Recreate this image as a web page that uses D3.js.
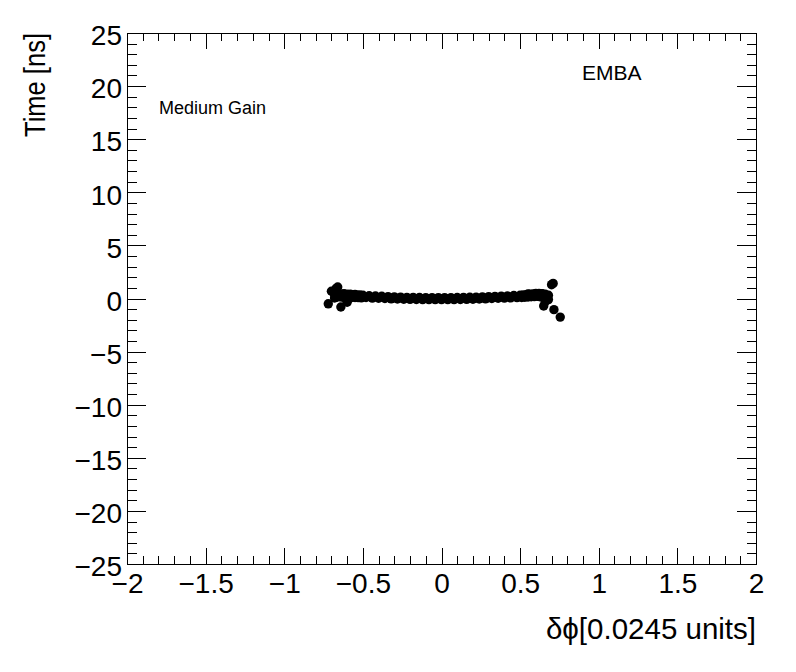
<!DOCTYPE html>
<meta charset="utf-8">
<style>
  body { margin: 0; background: #fff; }
  svg { font-family: "Liberation Sans", Arial, sans-serif; }
  .axis path { display: none; }
  .axis line { stroke: #000; shape-rendering: crispEdges; }
  .axis text { fill: #000; font-size: 28px; }
  .frame { fill: none; stroke: #000; shape-rendering: crispEdges; }
</style>
<body>
<script src="https://d3js.org/d3.v7.min.js"></script>
<script>

// tick values and labels
var xMajor = [-2, -1.5, -1, -0.5, 0, 0.5, 1, 1.5, 2],
    xLabels = ["\u22122", "\u22121.5", "\u22121", "\u22120.5", "0", "0.5", "1", "1.5", "2"],
    yMajor = [-25, -20, -15, -10, -5, 0, 5, 10, 15, 20, 25],
    yLabels = ["\u221225", "\u221220", "\u221215", "\u221210", "\u22125", "0", "5", "10", "15", "20", "25"];

// main band of points (delta phi, time in ns)
var bandPhi = [-0.68, -0.67, -0.66, -0.65, -0.64, -0.63, -0.62, -0.61, -0.60, -0.59, -0.58, -0.57,
               -0.56, -0.55, -0.54, -0.53, -0.52, -0.51, -0.50,
               -0.48, -0.46, -0.44, -0.42, -0.40, -0.38, -0.36, -0.34, -0.32, -0.30,
               -0.28, -0.26, -0.24, -0.22, -0.20, -0.18, -0.16, -0.14, -0.12, -0.10,
               -0.08, -0.06, -0.04, -0.02, 0.00, 0.02, 0.04, 0.06, 0.08, 0.10,
               0.12, 0.14, 0.16, 0.18, 0.20, 0.22, 0.24, 0.26, 0.28, 0.30,
               0.32, 0.34, 0.36, 0.38, 0.40, 0.42, 0.44, 0.46, 0.48, 0.50,
               0.51, 0.52, 0.53, 0.54, 0.55, 0.56, 0.57, 0.58, 0.59, 0.60,
               0.61, 0.62, 0.63, 0.64, 0.65, 0.66, 0.67, 0.68];
var bandTime = [0.35, 0.12, 0.40, 0.15, 0.42, 0.12, 0.38, 0.10, 0.40, 0.12, 0.36, 0.10,
                0.36, 0.10, 0.34, 0.08, 0.33, 0.06, 0.30,
                0.10, 0.26, 0.04, 0.24, 0.02, 0.21, 0.00, 0.18, -0.03, 0.15,
                -0.05, 0.13, -0.07, 0.11, -0.08, 0.10, -0.09, 0.09, -0.10, 0.08,
                -0.10, 0.08, -0.11, 0.08, -0.11, 0.08, -0.10, 0.08, -0.10, 0.09,
                -0.09, 0.10, -0.08, 0.12, -0.07, 0.13, -0.05, 0.15, -0.03, 0.17,
                0.00, 0.20, 0.02, 0.22, 0.04, 0.25, 0.06, 0.28, 0.08, 0.31,
                0.10, 0.34, 0.12, 0.36, 0.14, 0.40, 0.16, 0.44, 0.18, 0.46,
                0.20, 0.48, 0.15, 0.44, 0.10, 0.40, 0.05, 0.30];

// scattered points at the two ends
var edgePhi  = [-0.72, -0.70, -0.67, -0.66, -0.64, -0.60, -0.68, -0.62, -0.58, -0.55,
                0.55, 0.60, 0.64, 0.67, 0.68, 0.66, 0.65, 0.70, 0.71, 0.715, 0.755];
var edgeTime = [-0.50, 0.68, 0.95, 1.08, -0.80, -0.35, 0.05, 0.45, 0.40, 0.38,
                0.42, 0.48, 0.45, 0.20, -0.10, -0.30, -0.70, 1.30, 1.42, -1.05, -1.75];

var W = 796, H = 672,
    frame = {left: 127, right: 756, top: 33, bottom: 564};

var svg = d3.select("body").append("svg")
    .attr("width", W)
    .attr("height", H);

var x = d3.scaleLinear().domain([-2, 2]).range([frame.left, frame.right]);
var y = d3.scaleLinear().domain([-25, 25]).range([frame.bottom, frame.top]);

var xMinor = d3.range(-20, 21).map(function(i) { return i / 10; })
    .filter(function(v) { return Math.abs(v * 2 - Math.round(v * 2)) > 1e-6; });
var yMinor = d3.range(-25, 26).filter(function(v) { return v % 5 != 0; });

// bottom axis
svg.append("g").attr("class", "axis")
    .attr("transform", "translate(0," + frame.bottom + ")")
    .call(d3.axisBottom(x).tickValues(xMajor).tickSizeInner(-16).tickSizeOuter(0).tickPadding(9)
        .tickFormat(function(d, i) { return xLabels[i]; }));
svg.append("g").attr("class", "axis")
    .attr("transform", "translate(0," + frame.bottom + ")")
    .call(d3.axisBottom(x).tickValues(xMinor).tickSizeInner(-8).tickSizeOuter(0).tickFormat(""));

// top axis
svg.append("g").attr("class", "axis")
    .attr("transform", "translate(0," + frame.top + ")")
    .call(d3.axisTop(x).tickValues(xMajor).tickSizeInner(-16).tickSizeOuter(0).tickFormat(""));
svg.append("g").attr("class", "axis")
    .attr("transform", "translate(0," + frame.top + ")")
    .call(d3.axisTop(x).tickValues(xMinor).tickSizeInner(-8).tickSizeOuter(0).tickFormat(""));

// left axis
var yl = svg.append("g").attr("class", "axis")
    .attr("transform", "translate(" + frame.left + ",0)")
    .call(d3.axisLeft(y).tickValues(yMajor).tickSizeInner(-19).tickSizeOuter(0).tickPadding(5)
        .tickFormat(function(d, i) { return yLabels[i]; }));
yl.selectAll("text").attr("dy", "0.42em");
svg.append("g").attr("class", "axis")
    .attr("transform", "translate(" + frame.left + ",0)")
    .call(d3.axisLeft(y).tickValues(yMinor).tickSizeInner(-9.5).tickSizeOuter(0).tickFormat(""));

// right axis
svg.append("g").attr("class", "axis")
    .attr("transform", "translate(" + frame.right + ",0)")
    .call(d3.axisRight(y).tickValues(yMajor).tickSizeInner(-19).tickSizeOuter(0).tickFormat(""));
svg.append("g").attr("class", "axis")
    .attr("transform", "translate(" + frame.right + ",0)")
    .call(d3.axisRight(y).tickValues(yMinor).tickSizeInner(-9.5).tickSizeOuter(0).tickFormat(""));

svg.append("rect").attr("class", "frame")
    .attr("x", frame.left + 0.5).attr("y", frame.top + 0.5)
    .attr("width", frame.right - frame.left).attr("height", frame.bottom - frame.top);

// markers
var pts = bandPhi.map(function(p, i) { return [p, bandTime[i]]; })
    .concat(edgePhi.map(function(p, i) { return [p, edgeTime[i]]; }));

svg.append("g").selectAll("circle")
    .data(pts)
    .enter().append("circle")
    .attr("cx", function(d) { return x(d[0]); })
    .attr("cy", function(d) { return y(d[1]); })
    .attr("r", 4.7)
    .attr("fill", "#000");

// titles and labels
svg.append("text")
    .attr("transform", "translate(45," + frame.top + ") rotate(-90)")
    .attr("text-anchor", "end")
    .attr("font-size", 30)
    .attr("textLength", 104)
    .attr("lengthAdjust", "spacingAndGlyphs")
    .text("Time [ns]");

svg.append("text")
    .attr("x", frame.right).attr("y", 639)
    .attr("text-anchor", "end")
    .attr("font-size", 29.5)
    .text("\u03b4\u03d5[0.0245 units]");

svg.append("text")
    .attr("x", 159).attr("y", 114)
    .attr("font-size", 18)
    .text("Medium Gain");

svg.append("text")
    .attr("x", 582).attr("y", 80)
    .attr("font-size", 21)
    .text("EMBA");

</script>
</body>
